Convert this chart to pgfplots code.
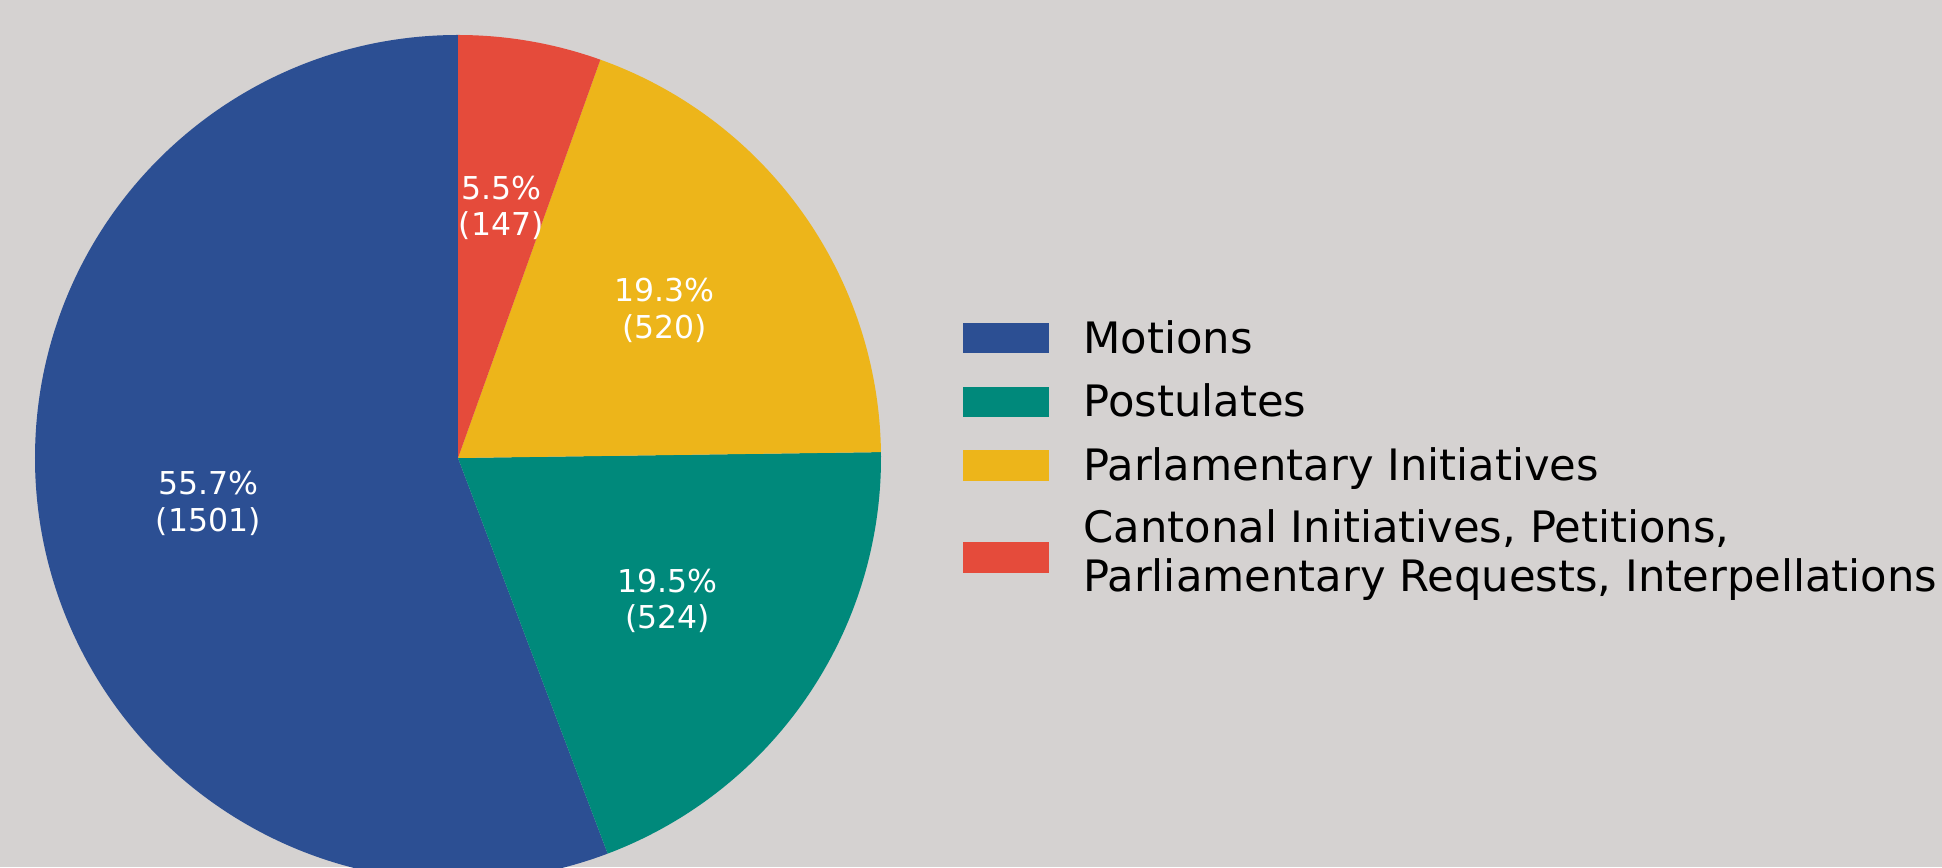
\documentclass[border=0pt]{standalone}
\usepackage{pgfplots}
\pgfplotsset{compat=1.18}
\usepackage{pgfplotstable}
\usepackage{fontspec}
\setmainfont{DejaVu Sans}
\definecolor{bgc}{HTML}{D5D2D1}
\definecolor{cblue}{HTML}{2C4F93}
\definecolor{cteal}{HTML}{00897B}
\definecolor{cyellow}{HTML}{EDB51A}
\definecolor{cred}{HTML}{E54B3B}

\pgfplotstableread{
value pct
1501 55.7
524 19.5
520 19.3
147 5.5
}\piedata

\begin{document}%
\begin{tikzpicture}
\pgfplotstablegetelem{0}{value}\of\piedata \let\va\pgfplotsretval
\pgfplotstablegetelem{1}{value}\of\piedata \let\vb\pgfplotsretval
\pgfplotstablegetelem{2}{value}\of\piedata \let\vc\pgfplotsretval
\pgfplotstablegetelem{3}{value}\of\piedata \let\vd\pgfplotsretval
\pgfmathsetmacro{\tot}{\va+\vb+\vc+\vd}
\pgfmathsetmacro{\aA}{90}
\pgfmathsetmacro{\aB}{\aA+360*(\va/\tot)}
\pgfmathsetmacro{\aC}{\aB+360*(\vb/\tot)}
\pgfmathsetmacro{\aD}{\aC+360*(\vc/\tot)}
\pgfmathsetmacro{\aE}{450}
\pgfmathsetmacro{\mA}{(\aA+\aB)/2}
\pgfmathsetmacro{\mB}{(\aB+\aC)/2}
\pgfmathsetmacro{\mC}{(\aC+\aD)/2}
\pgfmathsetmacro{\mD}{(\aD+\aE)/2}
\fill[bgc] (0,0) rectangle (971pt,433.5pt);
\begin{scope}
\clip (0,0) rectangle (971pt,433.5pt);
\begin{axis}[
  hide axis, clip=false,
  x=211.5pt, y=211.5pt,
  xmin=-1, xmax=1, ymin=-1, ymax=1,
  at={(229pt,204.5pt)}, anchor=center,
]
\fill[cblue] (axis cs:0,0) -- (axis cs:{cos(\aA)},{sin(\aA)}) arc[start angle=\aA, end angle=\aB, radius=211.5pt] -- cycle;
\fill[cteal] (axis cs:0,0) -- (axis cs:{cos(\aB)},{sin(\aB)}) arc[start angle=\aB, end angle=\aC, radius=211.5pt] -- cycle;
\fill[cyellow] (axis cs:0,0) -- (axis cs:{cos(\aC)},{sin(\aC)}) arc[start angle=\aC, end angle=\aD, radius=211.5pt] -- cycle;
\fill[cred] (axis cs:0,0) -- (axis cs:{cos(\aD)},{sin(\aD)}) arc[start angle=\aD, end angle=\aE, radius=211.5pt] -- cycle;
\begin{scope}[every node/.style={text=white, align=center, inner sep=0pt, font=\fontsize{15.75}{18.3}\selectfont}]
\node at (axis cs:{0.6*cos(\mA)},{0.6*sin(\mA)}) {55.7\%\\(1501)};
\node at (axis cs:{0.6*cos(\mB)},{0.6*sin(\mB)}) {19.5\%\\(524)};
\node at (axis cs:{0.6*cos(\mC)},{0.6*sin(\mC)}) {19.3\%\\(520)};
\node at (axis cs:{0.6*cos(\mD)},{0.6*sin(\mD)}) {5.5\%\\(147)};
\end{scope}
\end{axis}
\end{scope}
% legend
\fill[cblue] (481.5pt,257pt) rectangle (524.5pt,272pt);
\fill[cteal] (481.5pt,225pt) rectangle (524.5pt,240pt);
\fill[cyellow] (481.5pt,193pt) rectangle (524.5pt,208.5pt);
\fill[cred] (481.5pt,147pt) rectangle (524.5pt,162.5pt);
\begin{scope}[every node/.style={anchor=base west, inner sep=0pt, font=\fontsize{21.65}{24.5}\selectfont}]
\node at (541.5pt,256.5pt) {Motions};
\node at (541.5pt,225pt) {Postulates};
\node at (541.5pt,193pt) {Parlamentary Initiatives};
\node at (541.5pt,162pt) {Cantonal Initiatives, Petitions,};
\node at (541.5pt,137.5pt) {Parliamentary Requests, Interpellations};
\end{scope}
\pgfresetboundingbox
\useasboundingbox (0,0) rectangle (971pt,433.5pt);
\end{tikzpicture}%
\end{document}
